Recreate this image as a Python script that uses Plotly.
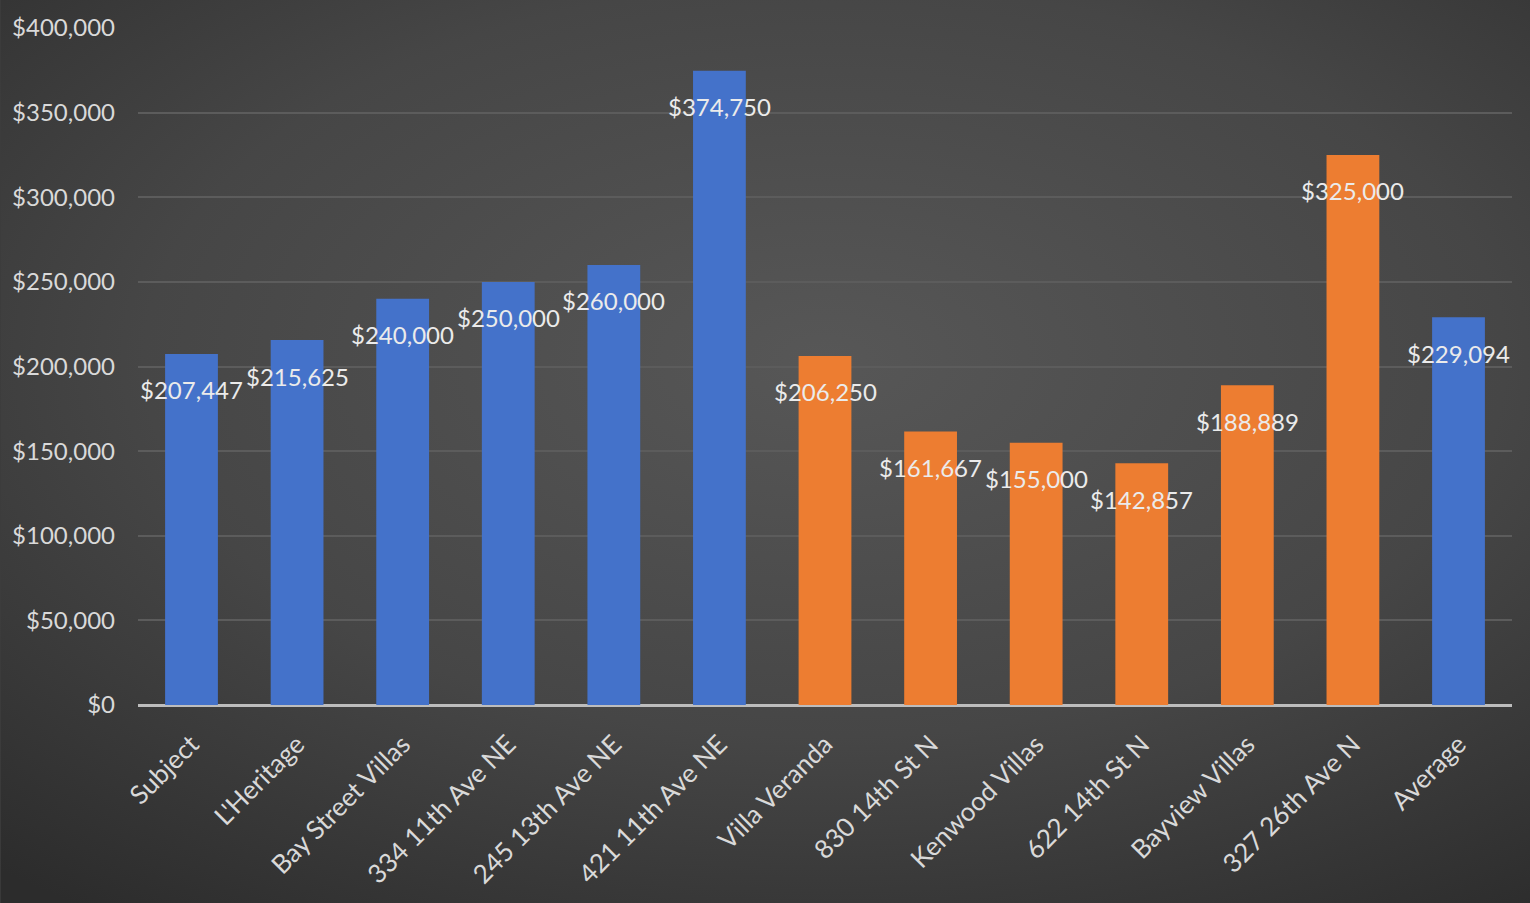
import plotly.graph_objects as go

categories = ["Subject", "L'Heritage", "Bay Street Villas", "334 11th Ave NE", "245 13th Ave NE",
              "421 11th Ave NE", "Villa Veranda", "830 14th St N", "Kenwood Villas", "622 14th St N",
              "Bayview Villas", "327 26th Ave N", "Average"]
values = [207447, 215625, 240000, 250000, 260000, 374750, 206250, 161667, 155000, 142857,
          188889, 325000, 229094]
groups = ["blue"] * 6 + ["orange"] * 6 + ["blue"]
color_map = {"blue": "#4472ca", "orange": "#ed7d31"}
tick_vals = [0, 50000, 100000, 150000, 200000, 250000, 300000, 350000, 400000]
tick_text = ["$" + f"{v:,}" for v in tick_vals]

FONT = "Lato, 'Open Sans', sans-serif"

fig = go.Figure()
fig.add_trace(go.Bar(
    x=categories, y=values,
    marker=dict(color=[color_map[g] for g in groups], line=dict(width=0)),
    width=0.5,
    hoverinfo="x+y",
))

for c, v in zip(categories, values):
    fig.add_annotation(x=c, y=v, text="$" + f"{v:,}", showarrow=False,
                       yshift=-36, yanchor="middle", xanchor="center",
                       font=dict(family=FONT, size=24, color="#ebebeb"))

bg_svg = (
    "data:image/svg+xml;utf8,"
    "<svg xmlns='http://www.w3.org/2000/svg' width='1530' height='903'>"
    "<defs><radialGradient id='g' cx='50%25' cy='40%25' r='75%25'>"
    "<stop offset='0' stop-color='%23575757'/>"
    "<stop offset='0.55' stop-color='%23464646'/>"
    "<stop offset='1' stop-color='%232c2c2c'/>"
    "</radialGradient></defs>"
    "<rect width='1530' height='903' fill='url(%23g)'/></svg>"
)

fig.update_layout(
    width=1530, height=903,
    paper_bgcolor="#3c3c3c", plot_bgcolor="rgba(0,0,0,0)",
    margin=dict(l=135, r=18, t=22, b=198),
    showlegend=False,
    bargap=0.5,
    images=[dict(source=bg_svg, xref="paper", yref="paper", x=-0.1, y=1.05,
                 sizex=1.2, sizey=1.35, xanchor="left", yanchor="top",
                 sizing="stretch", layer="below")],
    xaxis=dict(tickangle=-45, tickfont=dict(family=FONT, size=26, color="#d9d9d9"),
               showgrid=False, showline=False, ticks="", zeroline=False,
               ticklabelstandoff=18),
    yaxis=dict(range=[0, 400000], tickvals=tick_vals, ticktext=tick_text,
               tickfont=dict(family=FONT, size=24, color="#d9d9d9"),
               showgrid=True, gridcolor="#5c5c5c", gridwidth=1.5,
               zeroline=True, zerolinecolor="#bdbdbd", zerolinewidth=3,
               ticks="", ticklabelstandoff=22, showline=False),
)

fig.write_html("out.html", config={"displayModeBar": False},
               post_script="document.body.style.margin='0';document.body.style.overflow='hidden';")
